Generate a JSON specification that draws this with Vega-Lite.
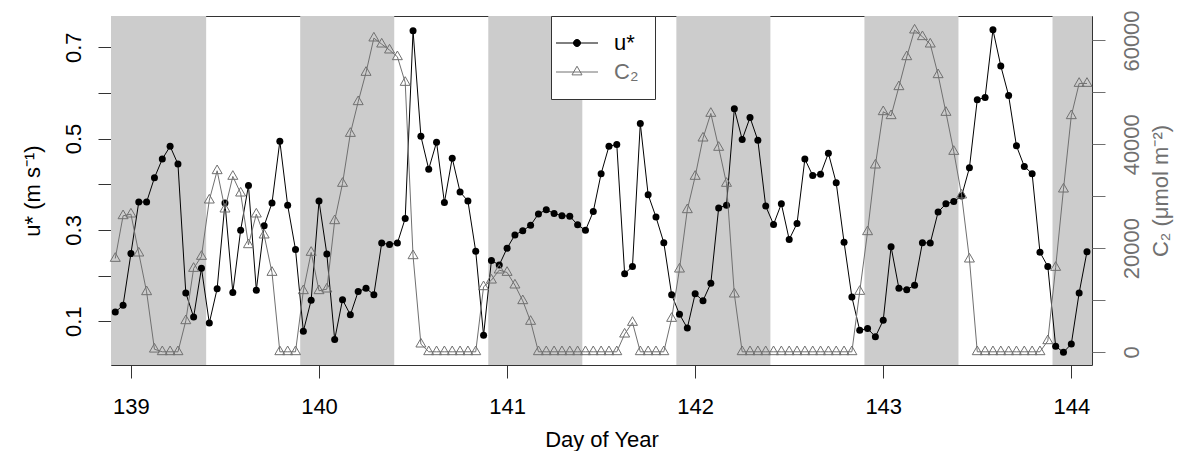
{
  "$schema": "https://vega.github.io/schema/vega-lite/v6.json",
  "width": 981,
  "height": 349,
  "autosize": "none",
  "padding": {"left": 111, "top": 16, "right": 90, "bottom": 86},
  "config": {
    "view": {"stroke": "#333333", "strokeWidth": 1},
    "font": "Liberation Sans",
    "axis": {"grid": false, "domain": false, "labelFont": "Liberation Sans", "titleFont": "Liberation Sans", "labelFontSize": 22, "titleFontSize": 22, "titleFontWeight": "normal", "tickSize": 13, "tickColor": "#333333", "labelColor": "#000000", "titleColor": "#000000", "labelOverlap": false, "labelFlush": false},
    "legend": {
      "orient": "none", "legendX": 440, "legendY": 0,
      "padding": 16, "symbolOffset": -1, "rowPadding": 7, "labelOffset": 26,
      "strokeColor": "#333333", "fillColor": "#ffffff",
      "labelFont": "Liberation Sans", "labelFontSize": 22, "symbolSize": 100, "symbolStrokeWidth": 1
    }
  },
  "datasets": {
    "night": [
      {"start": 138.8, "end": 139.4},
      {"start": 139.9, "end": 140.4},
      {"start": 140.9, "end": 141.4},
      {"start": 141.9, "end": 142.4},
      {"start": 142.9, "end": 143.4},
      {"start": 143.9, "end": 144.2}
    ],
    "obs": [
      {"day": 138.9167, "u": 0.120, "c2": 17990},
      {"day": 138.9583, "u": 0.135, "c2": 26210},
      {"day": 139.0, "u": 0.248, "c2": 26535},
      {"day": 139.0417, "u": 0.361, "c2": 19020},
      {"day": 139.0833, "u": 0.361, "c2": 11565},
      {"day": 139.125, "u": 0.414, "c2": 500},
      {"day": 139.1667, "u": 0.455, "c2": 0},
      {"day": 139.2083, "u": 0.483, "c2": 0},
      {"day": 139.25, "u": 0.444, "c2": 0},
      {"day": 139.2917, "u": 0.162, "c2": 5975},
      {"day": 139.3333, "u": 0.109, "c2": 16060},
      {"day": 139.375, "u": 0.216, "c2": 18375},
      {"day": 139.4167, "u": 0.096, "c2": 29230},
      {"day": 139.4583, "u": 0.171, "c2": 34890},
      {"day": 139.5, "u": 0.359, "c2": 27500},
      {"day": 139.5417, "u": 0.163, "c2": 33800},
      {"day": 139.5833, "u": 0.299, "c2": 30580},
      {"day": 139.625, "u": 0.397, "c2": 20620},
      {"day": 139.6667, "u": 0.168, "c2": 26535},
      {"day": 139.7083, "u": 0.309, "c2": 22490},
      {"day": 139.75, "u": 0.359, "c2": 15290},
      {"day": 139.7917, "u": 0.494, "c2": 0},
      {"day": 139.8333, "u": 0.354, "c2": 0},
      {"day": 139.875, "u": 0.257, "c2": 0},
      {"day": 139.9167, "u": 0.078, "c2": 11760},
      {"day": 139.9583, "u": 0.146, "c2": 19150},
      {"day": 140.0, "u": 0.363, "c2": 11760},
      {"day": 140.0417, "u": 0.247, "c2": 12080},
      {"day": 140.0833, "u": 0.060, "c2": 25250},
      {"day": 140.125, "u": 0.147, "c2": 32450},
      {"day": 140.1667, "u": 0.114, "c2": 42080},
      {"day": 140.2083, "u": 0.165, "c2": 48190},
      {"day": 140.25, "u": 0.172, "c2": 53840},
      {"day": 140.2917, "u": 0.158, "c2": 60460},
      {"day": 140.3333, "u": 0.271, "c2": 59300},
      {"day": 140.375, "u": 0.268, "c2": 58150},
      {"day": 140.4167, "u": 0.271, "c2": 56860},
      {"day": 140.4583, "u": 0.325, "c2": 51910},
      {"day": 140.5, "u": 0.736, "c2": 18500},
      {"day": 140.5417, "u": 0.505, "c2": 1480},
      {"day": 140.5833, "u": 0.433, "c2": 0},
      {"day": 140.625, "u": 0.492, "c2": 0},
      {"day": 140.6667, "u": 0.360, "c2": 0},
      {"day": 140.7083, "u": 0.457, "c2": 0},
      {"day": 140.75, "u": 0.383, "c2": 0},
      {"day": 140.7917, "u": 0.363, "c2": 0},
      {"day": 140.8333, "u": 0.253, "c2": 0},
      {"day": 140.875, "u": 0.069, "c2": 12530},
      {"day": 140.9167, "u": 0.233, "c2": 13810},
      {"day": 140.9583, "u": 0.223, "c2": 15740},
      {"day": 141.0, "u": 0.260, "c2": 15290},
      {"day": 141.0417, "u": 0.289, "c2": 12850},
      {"day": 141.0833, "u": 0.298, "c2": 9830},
      {"day": 141.125, "u": 0.310, "c2": 5850},
      {"day": 141.1667, "u": 0.335, "c2": 0},
      {"day": 141.2083, "u": 0.344, "c2": 0},
      {"day": 141.25, "u": 0.336, "c2": 0},
      {"day": 141.2917, "u": 0.331, "c2": 0},
      {"day": 141.3333, "u": 0.330, "c2": 0},
      {"day": 141.375, "u": 0.311, "c2": 0},
      {"day": 141.4167, "u": 0.299, "c2": 0},
      {"day": 141.4583, "u": 0.340, "c2": 0},
      {"day": 141.5, "u": 0.423, "c2": 0},
      {"day": 141.5417, "u": 0.483, "c2": 0},
      {"day": 141.5833, "u": 0.487, "c2": 0},
      {"day": 141.625, "u": 0.204, "c2": 3400},
      {"day": 141.6667, "u": 0.220, "c2": 5650},
      {"day": 141.7083, "u": 0.533, "c2": 0},
      {"day": 141.75, "u": 0.377, "c2": 0},
      {"day": 141.7917, "u": 0.328, "c2": 0},
      {"day": 141.8333, "u": 0.272, "c2": 0},
      {"day": 141.875, "u": 0.158, "c2": 6425},
      {"day": 141.9167, "u": 0.115, "c2": 15930},
      {"day": 141.9583, "u": 0.085, "c2": 27370},
      {"day": 142.0, "u": 0.160, "c2": 33800},
      {"day": 142.0417, "u": 0.145, "c2": 41180},
      {"day": 142.0833, "u": 0.183, "c2": 45940},
      {"day": 142.125, "u": 0.348, "c2": 39390},
      {"day": 142.1667, "u": 0.354, "c2": 32450},
      {"day": 142.2083, "u": 0.565, "c2": 11115},
      {"day": 142.25, "u": 0.498, "c2": 0},
      {"day": 142.2917, "u": 0.546, "c2": 0},
      {"day": 142.3333, "u": 0.496, "c2": 0},
      {"day": 142.375, "u": 0.352, "c2": 0},
      {"day": 142.4167, "u": 0.312, "c2": 0},
      {"day": 142.4583, "u": 0.357, "c2": 0},
      {"day": 142.5, "u": 0.279, "c2": 0},
      {"day": 142.5417, "u": 0.314, "c2": 0},
      {"day": 142.5833, "u": 0.455, "c2": 0},
      {"day": 142.625, "u": 0.419, "c2": 0},
      {"day": 142.6667, "u": 0.422, "c2": 0},
      {"day": 142.7083, "u": 0.468, "c2": 0},
      {"day": 142.75, "u": 0.403, "c2": 0},
      {"day": 142.7917, "u": 0.273, "c2": 0},
      {"day": 142.8333, "u": 0.153, "c2": 0},
      {"day": 142.875, "u": 0.080, "c2": 11630},
      {"day": 142.9167, "u": 0.084, "c2": 23130},
      {"day": 142.9583, "u": 0.066, "c2": 35980},
      {"day": 143.0, "u": 0.102, "c2": 46260},
      {"day": 143.0417, "u": 0.263, "c2": 45490},
      {"day": 143.0833, "u": 0.172, "c2": 51080},
      {"day": 143.125, "u": 0.169, "c2": 56860},
      {"day": 143.1667, "u": 0.179, "c2": 62000},
      {"day": 143.2083, "u": 0.272, "c2": 60720},
      {"day": 143.25, "u": 0.271, "c2": 59300},
      {"day": 143.2917, "u": 0.339, "c2": 53390},
      {"day": 143.3333, "u": 0.357, "c2": 46130},
      {"day": 143.375, "u": 0.362, "c2": 38610},
      {"day": 143.4167, "u": 0.374, "c2": 30200},
      {"day": 143.4583, "u": 0.436, "c2": 17860},
      {"day": 143.5, "u": 0.585, "c2": 0},
      {"day": 143.5417, "u": 0.590, "c2": 0},
      {"day": 143.5833, "u": 0.738, "c2": 0},
      {"day": 143.625, "u": 0.659, "c2": 0},
      {"day": 143.6667, "u": 0.594, "c2": 0},
      {"day": 143.7083, "u": 0.484, "c2": 0},
      {"day": 143.75, "u": 0.439, "c2": 0},
      {"day": 143.7917, "u": 0.423, "c2": 0},
      {"day": 143.8333, "u": 0.251, "c2": 0},
      {"day": 143.875, "u": 0.220, "c2": 2120},
      {"day": 143.9167, "u": 0.045, "c2": 16255},
      {"day": 143.9583, "u": 0.032, "c2": 31350},
      {"day": 144.0, "u": 0.050, "c2": 45490},
      {"day": 144.0417, "u": 0.162, "c2": 51720},
      {"day": 144.0833, "u": 0.252, "c2": 51720}
    ]
  },
  "layer": [
    {
      "data": {"name": "night"},
      "mark": {"type": "rect", "color": "#cccccc", "clip": true},
      "encoding": {
        "x": {"field": "start", "type": "quantitative", "scale": {"domain": [138.894, 144.11], "nice": false, "zero": false},
          "axis": {"orient": "bottom", "values": [139, 140, 141, 142, 143, 144], "format": "d", "title": "Day of Year", "labelPadding": 18, "titlePadding": 12}},
        "x2": {"field": "end"}
      }
    },
    {
      "data": {"name": "obs"},
      "encoding": {
        "x": {"field": "day", "type": "quantitative"},
        "y": {"field": "u", "type": "quantitative",
          "scale": {"domain": [0.0041, 0.7683], "nice": false, "zero": false},
          "axis": {"orient": "left", "title": "u* (m s⁻¹)", "values": [0.1, 0.2, 0.3, 0.4, 0.5, 0.6, 0.7], "format": ".1f",
            "labelExpr": "indexof(['0.1','0.3','0.5','0.7'], datum.label) >= 0 ? datum.label : ''",
            "labelAngle": 270, "labelAlign": "center", "labelBaseline": "bottom", "labelPadding": 13, "titlePadding": 18}},
        "color": {"datum": "u*", "type": "nominal",
          "scale": {"domain": ["u*", "C₂"], "range": ["#000000", "#707070"]},
          "legend": {"title": null,
            "encode": {
              "symbols": {"update": {
                "shape": {"signal": "datum.value === 'u*' ? 'M-4.2,0H4.2M0.7,0A0.7,0.7 0 1,1 -0.7,0A0.7,0.7 0 1,1 0.7,0Z' : 'M-4.2,0H4.2M0,-1.155L-1,0.577L1,0.577Z'"},
                "fill": {"signal": "datum.value === 'u*' ? '#000000' : 'transparent'"},
                "fillOpacity": {"signal": "datum.value === 'u*' ? 1 : 0"},
                "stroke": {"signal": "datum.value === 'u*' ? '#000000' : '#707070'"},
                "strokeWidth": {"value": 1},
                "opacity": {"value": 1}
              }},
              "labels": {"update": {"fill": {"signal": "datum.value === 'u*' ? '#000000' : '#707070'"}}}
            }
          }}
      },
      "layer": [
        {"mark": {"type": "line", "strokeWidth": 1}},
        {"mark": {"type": "point", "shape": "circle", "filled": true, "size": 49, "opacity": 1}}
      ]
    },
    {
      "data": {"name": "obs"},
      "encoding": {
        "x": {"field": "day", "type": "quantitative"},
        "y": {"field": "c2", "type": "quantitative",
          "scale": {"domain": [-2544, 64722], "nice": false, "zero": false},
          "axis": {"orient": "right", "title": "C₂ (μmol m⁻²)", "values": [0, 10000, 20000, 30000, 40000, 50000, 60000], "format": "d",
            "labelExpr": "datum.value % 20000 === 0 ? datum.label : ''",
            "labelAngle": 270, "labelAlign": "center", "labelBaseline": "top", "labelPadding": 16,
            "titleAngle": 270, "titleBaseline": "top", "titlePadding": 8,
            "tickColor": "#707070", "labelColor": "#707070", "titleColor": "#707070"}},
        "color": {"datum": "C₂", "type": "nominal"}
      },
      "layer": [
        {"mark": {"type": "line", "strokeWidth": 1}},
        {"mark": {"type": "point", "shape": "M0,-1.155L-1,0.577L1,0.577Z", "filled": false, "size": 100, "strokeWidth": 1, "opacity": 1}}
      ]
    }
  ],
  "resolve": {"scale": {"y": "independent"}}
}
